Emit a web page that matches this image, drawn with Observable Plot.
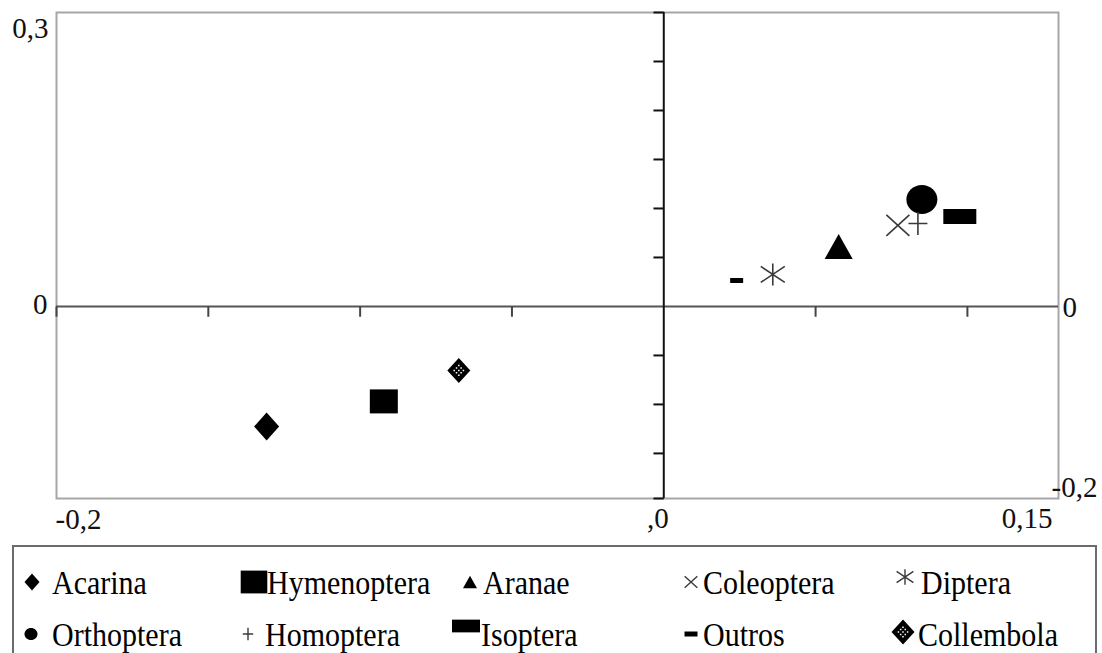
<!DOCTYPE html>
<html><head><meta charset="utf-8">
<script src="https://cdn.jsdelivr.net/npm/d3@7"></script>
<script src="https://cdn.jsdelivr.net/npm/@observablehq/plot@0.6"></script>
<style>
html,body{margin:0;padding:0;background:#fff;}
#chart{position:relative;width:1102px;height:653px;overflow:hidden;}
#chart svg{display:block;}
#legend{position:absolute;left:12px;top:545px;width:1085px;height:112px;border:2px solid #6b6b6b;box-sizing:border-box;}
.sym{position:absolute;width:40px;height:40px;}
.lab{position:absolute;font-size:30px;line-height:30px;height:30px;color:#000;white-space:nowrap;transform:scaleY(1.15);transform-origin:0 50%;}
</style></head><body><div id="chart"></div>
<script>
// ---- data ----
const species = ["Acarina","Hymenoptera","Aranae","Coleoptera","Diptera","Orthoptera","Homoptera","Isoptera","Outros","Collembola"];
const axis1 = [-0.1308,-0.0922,0.0576,0.0771,0.0359,0.0850,0.0837,0.0975,0.0240,-0.0675];
const axis2 = [-0.1224,-0.0969,0.0612,0.0827,0.0327,0.1092,0.0847,0.0918,0.0265,-0.0653];
const xTicks = [-0.2,-0.15,-0.1,-0.05,0.05,0.1];
const yTicks = [0.3,0.25,0.2,0.15,0.1,0.05,-0.05,-0.1,-0.15,-0.196];
const xDomain = [-0.2, 0.13];
const yDomain = [-0.196, 0.3];

const SERIF = "'Liberation Serif', 'Times New Roman', Tinos, serif";

// ---- symbol shapes (style) ----
function ellipse(c, rx, ry){
  const K = 0.5523;
  c.moveTo(rx,0);
  c.bezierCurveTo(rx, ry*K, rx*K, ry, 0, ry);
  c.bezierCurveTo(-rx*K, ry, -rx, ry*K, -rx, 0);
  c.bezierCurveTo(-rx, -ry*K, -rx*K, -ry, 0, -ry);
  c.bezierCurveTo(rx*K, -ry, rx, -ry*K, rx, 0);
  c.closePath();
}
const shapes = {
  Acarina: {mode:"fill", draw:(c,k)=>{const w=12.5*k,h=14*k;c.moveTo(0,-h);c.lineTo(w,0);c.lineTo(0,h);c.lineTo(-w,0);c.closePath();}},
  Hymenoptera: {mode:"fill", draw:(c,k)=>c.rect(-14*k,-12*k,28*k,24*k)},
  Aranae: {mode:"fill", draw:(c,k)=>{c.moveTo(0,-12.5*k);c.lineTo(14*k,12.5*k);c.lineTo(-14*k,12.5*k);c.closePath();}},
  Coleoptera: {mode:"stroke", draw:(c,k)=>{const w=11.5*k,h=10.5*k;c.moveTo(-w,-h);c.lineTo(w,h);c.moveTo(-w,h);c.lineTo(w,-h);}},
  Diptera: {mode:"stroke", draw:(c,k)=>{const w=12*k,h=11*k,d=8*k;c.moveTo(0,-h);c.lineTo(0,h);c.moveTo(-w,-d);c.lineTo(w,d);c.moveTo(-w,d);c.lineTo(w,-d);}},
  Orthoptera: {mode:"fill", draw:(c,k)=>ellipse(c,15.5*k,14.5*k)},
  Homoptera: {mode:"stroke", draw:(c,k)=>{const w=9.5*k,h=11.5*k;c.moveTo(-w,0);c.lineTo(w,0);c.moveTo(0,-h);c.lineTo(0,h);}},
  Isoptera: {mode:"fill", draw:(c,k)=>c.rect(-16.5*k,-7.5*k,33*k,15*k)},
  Outros: {mode:"fill", draw:(c,k)=>c.rect(-6.5*k,-2.5*k,13*k,5*k)},
  Collembola: {mode:"fill", draw:(c,k)=>{
    const w=11.5*k,h=12.5*k;
    c.moveTo(0,-h);c.lineTo(w,0);c.lineTo(0,h);c.lineTo(-w,0);c.closePath();
    const s=2.3*k, a=0.75*k;
    for(let u=-2;u<=2;u++)for(let v=-2;v<=2;v++){
      const x=(u-v)*s, y=(u+v)*s*1.05;
      if(Math.abs(x)/w+Math.abs(y)/h>0.72) continue;
      c.moveTo(x-a,y-a);c.lineTo(x-a,y+a);c.lineTo(x+a,y+a);c.lineTo(x+a,y-a);c.closePath();
    }
  }}
};
function symbolOf(name){
  const f = shapes[name].draw;
  return {draw(ctx,size){const k=Math.sqrt(size/Math.PI)/10; f(ctx,k);}};
}

const rows = species.map((s,i)=>({name:s, x:axis1[i], y:axis2[i]}));

const labelFont = 29;
const lbl = {fontSize:labelFont, fontFamily:SERIF, fill:"#111"};
const plot = Plot.plot({
  width:1102, height:540,
  marginLeft:56, marginRight:44, marginTop:12, marginBottom:42,
  x:{domain:xDomain, axis:null},
  y:{domain:yDomain, axis:null},
  style:{fontFamily:SERIF, background:"white", overflow:"visible"},
  marks:[
    Plot.frame({stroke:"#a6a6a6", strokeWidth:2}),
    Plot.ruleY([0], {stroke:"#555", strokeWidth:2}),
    Plot.ruleX([0], {stroke:"#111", strokeWidth:2}),
    Plot.link(xTicks, {x1:d=>d, x2:d=>d, y1:()=>0, y2:()=>-0.0105, stroke:"#444", strokeWidth:2}),
    Plot.link(yTicks, {x1:()=>0, x2:()=>-0.0034, y1:d=>d, y2:d=>d, stroke:"#111", strokeWidth:2}),
    ...species.map(s=>Plot.dot(rows.filter(d=>d.name===s), {
      x:"x", y:"y", r:10, symbol:symbolOf(s),
      fill: shapes[s].mode==="fill" ? "#000" : "none",
      stroke: shapes[s].mode==="fill" ? "none" : "#3a3a3a",
      strokeWidth:1.6
    })),
    Plot.text(["0,3"], {x:()=>xDomain[0], y:()=>0.3, text:d=>d, textAnchor:"end", dx:-8, dy:16, ...lbl}),
    Plot.text(["0"], {x:()=>xDomain[0], y:()=>0, text:d=>d, textAnchor:"end", dx:-9, dy:-2, ...lbl}),
    Plot.text(["0"], {x:()=>xDomain[1], y:()=>0, text:d=>d, textAnchor:"start", dx:4, dy:1, ...lbl}),
    Plot.text(["-0,2"], {x:()=>xDomain[1], y:()=>yDomain[0], text:d=>d, textAnchor:"start", dx:-7, dy:-11, ...lbl}),
    Plot.text(["-0,2"], {x:()=>xDomain[0], y:()=>yDomain[0], text:d=>d, textAnchor:"start", dx:-1, dy:21, ...lbl}),
    Plot.text([",0"], {x:()=>0, y:()=>yDomain[0], text:d=>d, textAnchor:"end", dx:5, dy:20, ...lbl}),
    Plot.text(["0,15"], {x:()=>xDomain[1], y:()=>yDomain[0], text:d=>d, textAnchor:"end", dx:-6, dy:20, ...lbl})
  ]
});
plot.querySelectorAll("text").forEach(t=>t.style.setProperty("font-family", SERIF, "important"));
const chart = document.getElementById("chart");
chart.appendChild(plot);

// ---- legend (HTML) ----
const legend = document.createElement("div");
legend.id = "legend";
chart.appendChild(legend);
const legendLayout = {
  Acarina:{row:0,cx:32,tx:52,k:0.6,dy:0},
  Hymenoptera:{row:0,cx:254,tx:267,k:0.95,dy:0},
  Aranae:{row:0,cx:470,tx:483,k:0.5,dy:0},
  Coleoptera:{row:0,cx:691,tx:703,k:0.55,dy:0},
  Diptera:{row:0,cx:905,tx:921,k:0.7,dy:-5},
  Orthoptera:{row:1,cx:31,tx:52,k:0.42,dy:0},
  Homoptera:{row:1,cx:248,tx:265,k:0.55,dy:0},
  Isoptera:{row:1,cx:466,tx:481,k:0.85,dy:-8},
  Outros:{row:1,cx:691,tx:703,k:1,dy:0},
  Collembola:{row:1,cx:903,tx:918,k:1.0,dy:-2}
};
const rowY = [581.5, 633.5];
species.forEach(s=>{
  const L = legendLayout[s];
  const p = d3.path();
  symbolOf(s).draw(p, Math.pow(10*L.k,2)*Math.PI);
  const svg = d3.create("svg").attr("class","sym").attr("width",40).attr("height",40)
    .style("left",(L.cx-20)+"px").style("top",(rowY[L.row]+L.dy-20)+"px");
  svg.append("path").attr("transform","translate(20,20)").attr("d",p.toString())
    .attr("fill", shapes[s].mode==="fill"?"#000":"none")
    .attr("stroke", shapes[s].mode==="fill"?"none":"#3a3a3a")
    .attr("stroke-width",1.4);
  chart.appendChild(svg.node());
  const t = document.createElement("span");
  t.className = "lab";
  t.textContent = s;
  t.style.left = L.tx+"px";
  t.style.top = (rowY[L.row]-15)+"px";
  t.style.setProperty("font-family", SERIF, "important");
  chart.appendChild(t);
});
</script></body></html>
